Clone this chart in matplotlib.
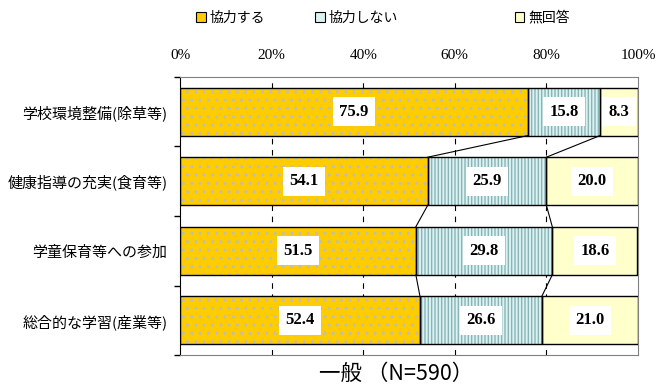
import numpy as np
import matplotlib.pyplot as plt
from matplotlib.patches import Patch

plt.rcParams['font.family'] = ['Noto Sans CJK JP', 'DejaVu Sans']
plt.rcParams['hatch.linewidth'] = 1.0

categories = ['学校環境整備(除草等)', '健康指導の充実(食育等)', '学童保育等への参加', '総合的な学習(産業等)']
series_names = ['協力する', '協力しない', '無回答']
kyoryoku = [75.9, 54.1, 51.5, 52.4]
shinai = [15.8, 25.9, 29.8, 26.6]
mukaito = [8.3, 20.0, 18.6, 21.0]
xticks = [0, 20, 40, 60, 80, 100]
title = '一般 （N=590）'

faces = ['#FFCC00', '#D9F2F2', '#FFFFCC']
hatches = ['..', '|||||', None]
hcolors = ['#BDBDBD', '#8CB4B6', '#FFFFCC']

fig = plt.figure(figsize=(6.57, 3.92), dpi=100)
ax = fig.add_axes([0.274, 0.094, 0.697, 0.71])

y = np.arange(len(categories))
h = 0.69
data = [np.array(kyoryoku), np.array(shinai), np.array(mukaito)]
left = np.zeros(len(categories))
lefts = []
for vals, fc, ht, hc in zip(data, faces, hatches, hcolors):
    ax.barh(y, vals, left=left, height=h, color=fc, hatch=ht, edgecolor=hc, linewidth=0, zorder=2)
    ax.barh(y, vals, left=left, height=h, facecolor='none', edgecolor='black', linewidth=1, zorder=3)
    for yi, v, l in zip(y, vals, left):
        ax.text(l + v / 2, yi, f'{v:.1f}', ha='center', va='center', fontsize=12,
                fontweight='bold', family='Liberation Serif', zorder=5,
                bbox=dict(facecolor='white', edgecolor='none', pad=4.5))
    left = left + vals
    lefts.append(left.copy())

# series lines between bars
for cum in lefts[:2]:
    for i in range(len(categories) - 1):
        ax.plot([cum[i], cum[i + 1]], [y[i] + h / 2, y[i + 1] - h / 2], color='black', lw=0.8, zorder=4)

ax.set_xlim(0, 100)
ax.set_ylim(len(categories) - 0.5, -0.5)
ax.xaxis.tick_top()
ax.set_xticks(xticks)
ax.set_xticklabels([f'{t}%' for t in xticks], family='Liberation Serif', fontsize=11)
ax.tick_params(axis='x', length=0, pad=11)
ax.set_yticks(y)
ax.set_yticklabels(categories, fontsize=10.8)
ax.tick_params(axis='y', which='major', length=0, pad=9)
ax.set_yticks(np.arange(-0.5, len(categories)), minor=True)
ax.tick_params(axis='y', which='minor', length=4, width=1, color='black')

for t in xticks[1:-1]:
    ax.axvline(t, color='black', lw=0.8, linestyle=(0, (5, 5)), zorder=1)

for s in ['top', 'right', 'bottom']:
    ax.spines[s].set_color('#808080')
ax.spines['left'].set_color('black')

# legend items
legend_x = [0.290, 0.471, 0.775]
for name, fc, lx in zip(series_names, faces, legend_x):
    fig.legend(handles=[Patch(facecolor=fc, edgecolor='black', linewidth=0.8)], labels=[name],
               loc='center left', bbox_to_anchor=(lx, 0.955), frameon=False, fontsize=10,
               handlelength=0.7, handleheight=0.7, handletextpad=0.3, borderaxespad=0)

fig.text(0.603, 0.045, title, ha='center', va='center', fontsize=15.5)

fig.savefig('out.png', dpi=100)
